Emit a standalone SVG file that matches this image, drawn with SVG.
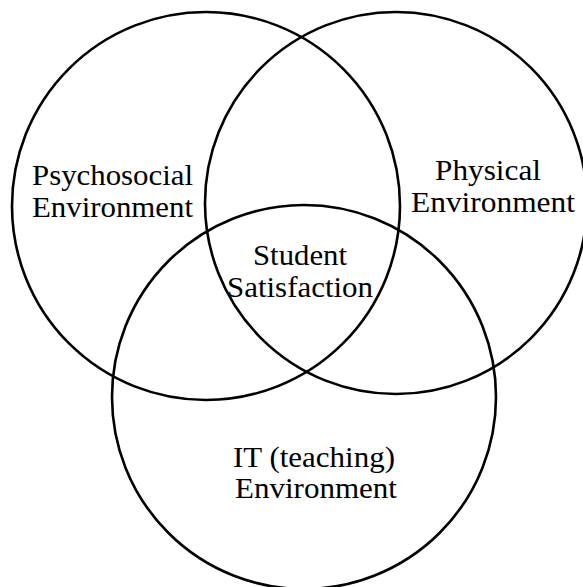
<svg xmlns="http://www.w3.org/2000/svg" width="583" height="587" viewBox="0 0 583 587">
<style>
.c{fill:none;stroke:#000;stroke-width:2.6}
.t{font-family:"Liberation Serif","Times New Roman",serif;font-size:29px;fill:#000;text-anchor:middle}
</style>
<rect width="583" height="587" fill="#fff"/>
<g id="psychosocial">
<circle class="c" cx="206" cy="206" r="194"/>
<text class="t" x="112.5" y="185" textLength="161" lengthAdjust="spacingAndGlyphs">Psychosocial</text>
<text class="t" x="112.5" y="217" textLength="161" lengthAdjust="spacingAndGlyphs">Environment</text>
</g>
<g id="physical">
<circle class="c" cx="396" cy="203" r="191"/>
<text class="t" x="488" y="180" textLength="106" lengthAdjust="spacingAndGlyphs">Physical</text>
<text class="t" x="493" y="212" textLength="164" lengthAdjust="spacingAndGlyphs">Environment</text>
</g>
<g id="it">
<circle class="c" cx="304" cy="397" r="192"/>
<text class="t" x="314" y="467" textLength="162" lengthAdjust="spacingAndGlyphs">IT (teaching)</text>
<text class="t" x="316" y="498" textLength="162" lengthAdjust="spacingAndGlyphs">Environment</text>
</g>
<g id="student-satisfaction">
<text class="t" x="300" y="265" textLength="94" lengthAdjust="spacingAndGlyphs">Student</text>
<text class="t" x="300" y="297" textLength="146" lengthAdjust="spacingAndGlyphs">Satisfaction</text>
</g>
</svg>
